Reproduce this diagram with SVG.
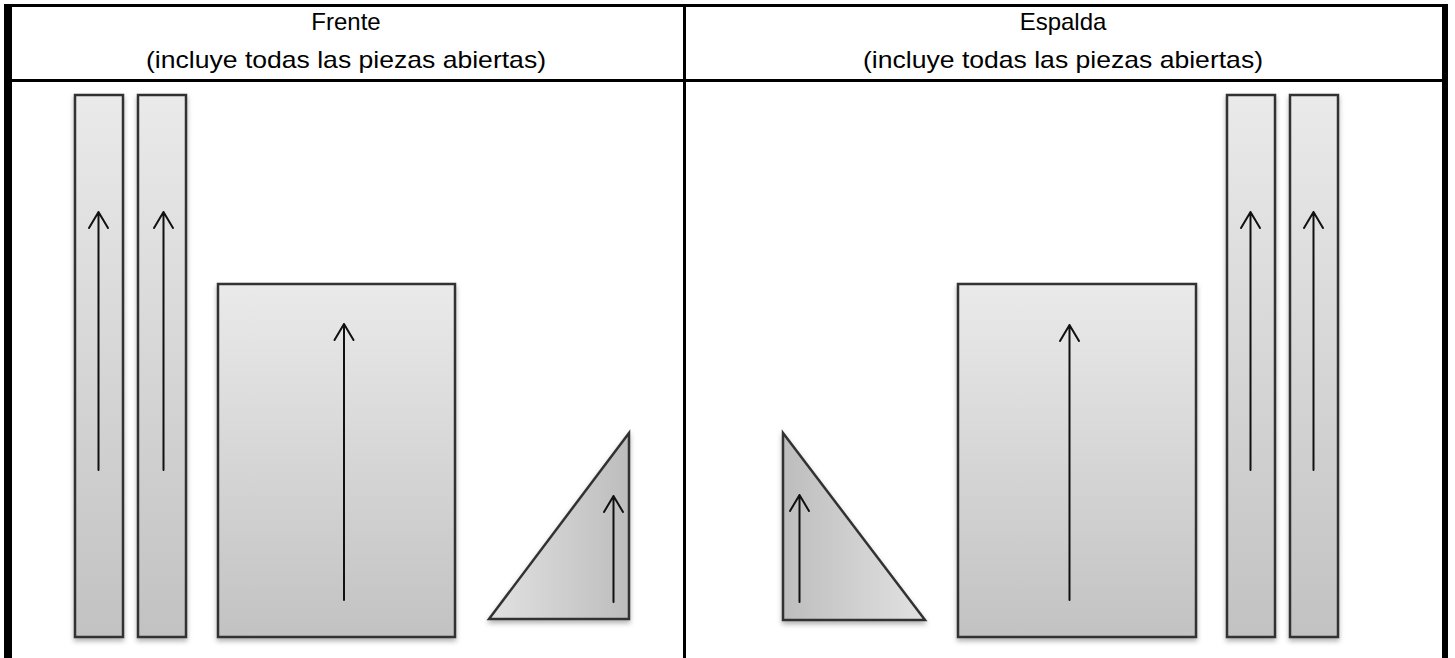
<svg xmlns="http://www.w3.org/2000/svg" width="1455" height="658" viewBox="0 0 1455 658">
<style>
.t{font-family:"Liberation Sans",Arial,sans-serif;font-size:24px;fill:#000;text-anchor:middle}
.piece{fill:url(#gv);stroke:#333;stroke-width:2.5;filter:url(#sh)}
.grid{stroke:#000;fill:none}
</style>
<defs>
<linearGradient id="gv" x1="0" y1="0" x2="0" y2="1"><stop offset="0" stop-color="#eaeaea"/><stop offset="1" stop-color="#c2c2c2"/></linearGradient>
<linearGradient id="gl" x1="0" y1="0" x2="1" y2="0"><stop offset="0" stop-color="#e2e2e2"/><stop offset="1" stop-color="#bdbdbd"/></linearGradient>
<linearGradient id="gr" x1="0" y1="0" x2="1" y2="0"><stop offset="0" stop-color="#bdbdbd"/><stop offset="1" stop-color="#e2e2e2"/></linearGradient>
<filter id="sh" x="-20%" y="-10%" width="140%" height="125%"><feDropShadow dx="0" dy="3" stdDeviation="2.5" flood-color="#000" flood-opacity="0.3"/></filter>
</defs>
<g id="table">
<line class="grid" x1="4" y1="5.5" x2="1448" y2="5.5" stroke-width="3"/>
<line class="grid" x1="8" y1="4" x2="8" y2="658" stroke-width="8"/>
<line class="grid" x1="1445" y1="4" x2="1445" y2="658" stroke-width="6"/>
<line class="grid" x1="12" y1="80.5" x2="1442" y2="80.5" stroke-width="3"/>
<line class="grid" x1="684.5" y1="4" x2="684.5" y2="658" stroke-width="3"/>
</g>
<g id="headers">
<text class="t" x="346" y="30">Frente</text>
<text class="t" x="346" y="68" textLength="400" lengthAdjust="spacingAndGlyphs">(incluye todas las piezas abiertas)</text>
<text class="t" x="1063" y="30">Espalda</text>
<text class="t" x="1063" y="68" textLength="400" lengthAdjust="spacingAndGlyphs">(incluye todas las piezas abiertas)</text>
</g>
<g id="frente-tira1"><rect class="piece" x="75" y="95" width="48" height="542"/></g>
<g id="frente-tira2"><rect class="piece" x="138" y="95" width="48" height="542"/></g>
<g id="frente-cuerpo"><rect class="piece" x="218" y="284" width="237" height="353"/></g>
<g id="frente-triangulo"><polygon class="piece" style="fill:url(#gl)" points="629,433 489,619 629,619"/></g>
<g id="espalda-cuerpo"><rect class="piece" x="958" y="284" width="238" height="353"/></g>
<g id="espalda-triangulo"><polygon class="piece" style="fill:url(#gr)" points="783,433 783,620 925,620"/></g>
<g id="espalda-tira1"><rect class="piece" x="1227" y="95" width="48" height="542"/></g>
<g id="espalda-tira2"><rect class="piece" x="1290" y="95" width="48" height="542"/></g>
<g id="arrows" stroke="#111" stroke-width="2" fill="none" stroke-linecap="round" stroke-linejoin="round">
<path d="M98.5 470 V212 M89 228 L98.5 212 L108 228"/>
<path d="M163.5 470 V212 M154 228 L163.5 212 L173 228"/>
<path d="M344 600 V324 M334.5 340 L344 324 L353.5 340"/>
<path d="M613.5 602 V496 M604 512 L613.5 496 L623 512"/>
<path d="M799.5 602 V495 M790 511 L799.5 495 L809 511"/>
<path d="M1069.5 600 V325 M1060 341 L1069.5 325 L1079 341"/>
<path d="M1250.5 470 V212 M1241 228 L1250.5 212 L1260 228"/>
<path d="M1313.5 470 V212 M1304 228 L1313.5 212 L1323 228"/>
</g>
</svg>
